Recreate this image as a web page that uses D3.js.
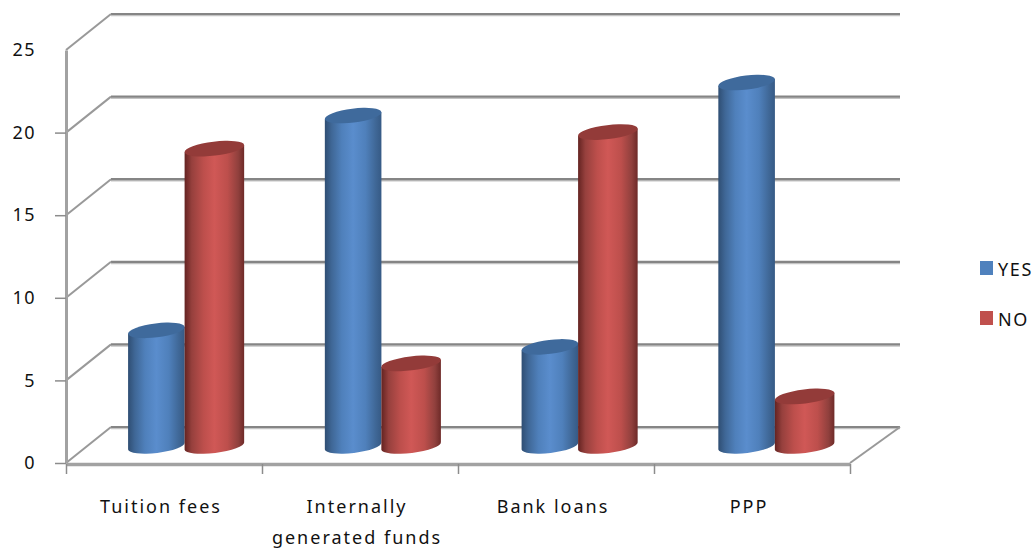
<!DOCTYPE html>
<html>
<head>
<meta charset="utf-8">
<style>
  html, body { margin: 0; padding: 0; background: #fff; }
  svg { display: block; }
  text { font-family: "Noto Sans", sans-serif; fill: #111; }
</style>
<script src="https://cdn.jsdelivr.net/npm/d3@7"></script>
</head>
<body>
<svg id="chart" width="1034" height="548"></svg>
<script>
const categories = ["Tuition fees", "Internally generated funds", "Bank loans", "PPP"];
const categoryLines = [["Tuition fees"], ["Internally", "generated funds"], ["Bank loans"], ["PPP"]];
const seriesNames = ["YES", "NO"];
const yesValues = [7, 20, 6, 22];
const noValues = [18, 5, 19, 3];
const yTicks = [0, 5, 10, 15, 20, 25];

const svg = d3.select("#chart");
const frontLeft = 66, frontRight = 850, frontBase = 463, frontTop = 50;
const depth = { x: 45, y: -36 };        // front plane to back wall
const liftY = -17;                      // front plane to the row of cylinders
const wallRight = 900;

const y = d3.scaleLinear().domain([0, 25]).range([frontBase, frontTop]);
const x = d3.scaleBand().domain(categories).range([frontLeft, frontRight]);
const xBars = d3.scaleBand().domain(categories).range([87, 874]);
const xInner = d3.scaleBand().domain(seriesNames).range([-58, 58]);
const rx = { YES: 28.5, NO: 30 };
const ry = 7, tilt = 7;
const colors = { YES: "#4f81bd", NO: "#c0504d" };

// Cylinder shading
const defs = svg.append("defs");
function shade(id, stops) {
  const g = defs.append("linearGradient").attr("id", id)
    .attr("x1", 0).attr("x2", 1).attr("y1", 0).attr("y2", 0);
  stops.forEach(([o, c]) => g.append("stop").attr("offset", o).attr("stop-color", c));
}
shade("side-YES", [[0, "#2f4e73"], [0.12, "#3f6796"], [0.3, "#4f80bb"], [0.5, "#5a8dcd"], [0.72, "#4f80bb"], [0.9, "#3f6796"], [1, "#365a85"]]);
shade("side-NO", [[0, "#642321"], [0.12, "#96403d"], [0.32, "#bd4f4c"], [0.5, "#d05856"], [0.72, "#bd4f4c"], [0.9, "#90403d"], [1, "#6e2a28"]]);
const topFill = { YES: "#3f6a9c", NO: "#933b39" };

// Walls: gridlines on the back wall, joined to the front plane by diagonals
const walls = svg.append("g");
const gridColor = "#858585";
walls.selectAll("line.under").data(yTicks).join("line")
  .attr("x1", frontLeft + depth.x).attr("x2", wallRight)
  .attr("y1", d => y(d) + depth.y + 1.6).attr("y2", d => y(d) + depth.y + 1.6)
  .attr("stroke", "#c4c4c4").attr("stroke-width", 1.5);
walls.selectAll("line.grid").data(yTicks).join("line")
  .attr("x1", frontLeft + depth.x).attr("x2", wallRight)
  .attr("y1", d => y(d) + depth.y).attr("y2", d => y(d) + depth.y)
  .attr("stroke", gridColor).attr("stroke-width", 2.2);
walls.selectAll("line.diag").data(yTicks).join("line")
  .attr("x1", frontLeft).attr("x2", frontLeft + depth.x)
  .attr("y1", d => y(d)).attr("y2", d => y(d) + depth.y)
  .attr("stroke", "#999").attr("stroke-width", 2);
walls.append("line")
  .attr("x1", frontRight).attr("x2", wallRight)
  .attr("y1", y(0)).attr("y2", y(0) + depth.y)
  .attr("stroke", "#999").attr("stroke-width", 2);

// Value axis
const yAxis = d3.axisLeft(y).tickValues(yTicks).tickSize(11).tickSizeOuter(0).tickPadding(19);
const gy = svg.append("g").attr("transform", `translate(${frontLeft},0)`).call(yAxis);
gy.select(".domain").attr("stroke", "#a2a2a2").attr("stroke-width", 3);
gy.selectAll(".tick line").attr("stroke", d => d === 25 ? "none" : "#8c8c8c").attr("stroke-width", 1.5);
gy.selectAll(".tick text").attr("font-size", 18).attr("letter-spacing", 1.5)
  .attr("font-family", "Noto Sans, sans-serif").attr("fill", "#111");

// Category axis
const edgeTicks = x.domain().map(d => x(d)).concat(frontRight);
const xAxis = d3.axisBottom(d3.scaleLinear().domain([frontLeft, frontRight]).range([frontLeft, frontRight]))
  .tickValues(edgeTicks).tickSize(10).tickSizeOuter(0).tickFormat("");
const gx = svg.append("g").attr("transform", `translate(0,${frontBase + 1})`).call(xAxis);
gx.select(".domain").attr("stroke", "#a2a2a2").attr("stroke-width", 3.5);
gx.selectAll(".tick line").attr("stroke", "#8c8c8c").attr("stroke-width", 1.5);

const labels = svg.append("g").selectAll("text").data(categories).join("text")
  .attr("text-anchor", "middle").attr("font-size", 18).attr("letter-spacing", 2);
labels.each(function (d, i) {
  d3.select(this).selectAll("tspan").data(categoryLines[i]).join("tspan")
    .attr("x", x(d) + x.bandwidth() / 2 - 3)
    .attr("y", (_, k) => 513 + k * 31)
    .text(t => t);
});

// Cylinders, YES first so NO overlaps it
const rad = tilt * Math.PI / 180;
function cylinder(cx, value, name, g) {
  const a = rx[name], dx = a * Math.cos(rad), dy = a * Math.sin(rad);
  const yb = y(0) + liftY, yt = y(value) + liftY;
  g.append("path")
    .attr("d", `M${cx - dx},${yt + dy} L${cx - dx},${yb + dy} A${a},${ry} ${-tilt} 0 0 ${cx + dx},${yb - dy} L${cx + dx},${yt - dy} Z`)
    .attr("fill", `url(#side-${name})`);
  g.append("ellipse")
    .attr("cx", cx).attr("cy", yt).attr("rx", a).attr("ry", ry)
    .attr("transform", `rotate(${-tilt} ${cx} ${yt})`)
    .attr("fill", topFill[name]);
}
const bars = svg.append("g");
categories.forEach((c, i) => {
  const centre = xBars(c) + xBars.bandwidth() / 2;
  const g = bars.append("g");
  cylinder(centre + xInner("YES") + xInner.bandwidth() / 2, yesValues[i], "YES", g);
  cylinder(centre + xInner("NO") + xInner.bandwidth() / 2, noValues[i], "NO", g);
});

// Legend
const legend = svg.append("g").selectAll("g").data(seriesNames).join("g")
  .attr("transform", (d, i) => `translate(980,${261 + i * 50})`);
legend.append("rect").attr("width", 13).attr("height", 14).attr("fill", d => colors[d]);
legend.append("text").attr("x", 18).attr("y", 15).attr("font-size", 18).attr("letter-spacing", 1.6)
  .text(d => d);
</script>
</body>
</html>
